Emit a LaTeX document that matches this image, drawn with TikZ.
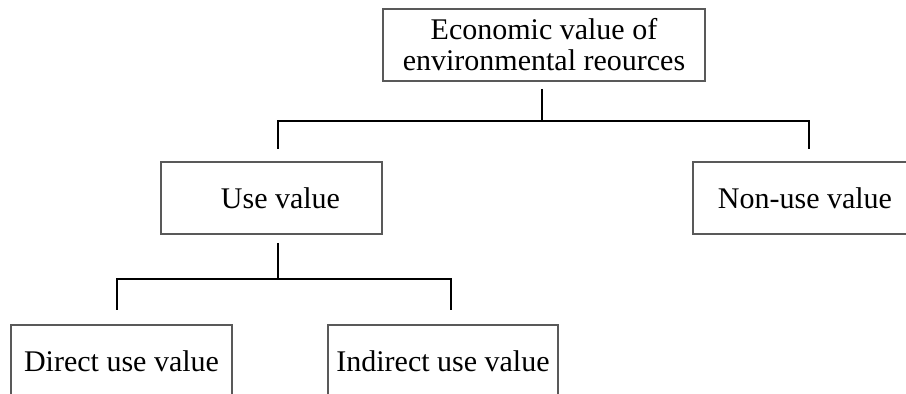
\documentclass[tikz,border=0pt]{standalone}
\usepackage{fontspec}
\setmainfont{Liberation Serif}
\usetikzlibrary{positioning}
\begin{document}
\begin{tikzpicture}[x=1pt,y=1pt,
  valbox/.style={draw=black!65, line width=1.1pt, rectangle, minimum height=72pt,
    inner sep=0pt, align=center, font=\fontsize{30}{31}\selectfont},
  link/.style={draw=black, line width=1.6pt}]
  \useasboundingbox (0,0) rectangle (906,394);
  % value boxes
  \node[valbox, minimum width=322pt] (econ) at (544,349) {Economic value of\\environmental reources};
  \node[valbox, minimum width=221pt] (use) at (271.5,196) {\hspace*{18pt}Use value};
  \node[valbox, minimum width=224pt] (nonuse) at (805,196) {Non-use value};
  \node[valbox, minimum width=221pt] (direct) at (121.5,33) {Direct use value};
  \node[valbox, minimum width=230pt] (indirect) at (443,33) {Indirect use value};
  % branch points
  \coordinate (econstem) at (542,305);
  \coordinate (econfork) at (542,273);
  \coordinate (usedrop) at (278,245);
  \coordinate (usebar) at (278,273);
  \coordinate (nonusedrop) at (809,245);
  \coordinate (nonusebar) at (809,273);
  \coordinate (usestem) at (278,151);
  \coordinate (usefork) at (278,115);
  \coordinate (directdrop) at (117,84);
  \coordinate (directbar) at (117,115);
  \coordinate (indirectdrop) at (451,84);
  \coordinate (indirectbar) at (451,115);
  % tree connectors
  \draw[link] (econstem) -- (econfork);
  \draw[link] (usedrop) -- (usebar) -- (nonusebar) -- (nonusedrop);
  \draw[link] (usestem) -- (usefork);
  \draw[link] (directdrop) -- (directbar) -- (indirectbar) -- (indirectdrop);
\end{tikzpicture}
\end{document}
